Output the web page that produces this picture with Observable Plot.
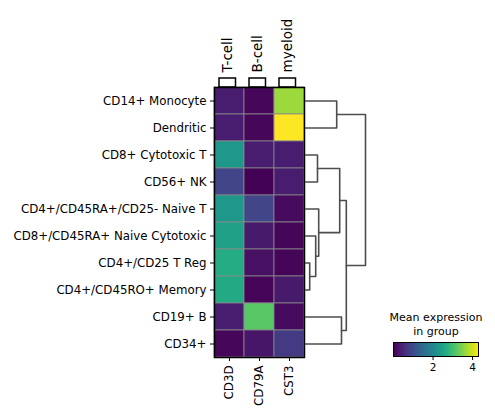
<!DOCTYPE html>
<html>
<head>
<meta charset="utf-8">
<script src="https://cdn.jsdelivr.net/npm/d3@7"></script>
<script src="https://cdn.jsdelivr.net/npm/@observablehq/plot@0.6"></script>
<style>
  html, body { margin: 0; padding: 0; background: white; }
  #chart { position: relative; width: 495px; height: 417px; background: white; }
  #chart svg { position: absolute; left: 0; top: 0; }
</style>
</head>
<body>
<div id="chart"></div>
<script>
// ---- data ----
const groups = ["CD14+ Monocyte", "Dendritic", "CD8+ Cytotoxic T", "CD56+ NK",
  "CD4+/CD45RA+/CD25- Naive T", "CD8+/CD45RA+ Naive Cytotoxic", "CD4+/CD25 T Reg",
  "CD4+/CD45RO+ Memory", "CD19+ B", "CD34+"];
const genes = ["CD3D", "CD79A", "CST3"];
const geneGroups = ["T-cell", "B-cell", "myeloid"];
const cd3d  = [0.35, 0.35, 2.28, 0.90, 2.30, 2.45, 2.65, 2.60, 0.35, 0.08];
const cd79a = [0.08, 0.08, 0.35, 0.03, 0.90, 0.30, 0.18, 0.05, 3.18, 0.25];
const cst3  = [3.65, 4.30, 0.35, 0.35, 0.12, 0.06, 0.06, 0.30, 0.12, 0.72];
// dendrogram linkage (children: 0-9 leaves, 10+ merged clusters), relative heights
const linkLeft   = [6, 5, 2, 4, 0, 12, 8, 15, 14];
const linkRight  = [7, 10, 3, 11, 1, 13, 9, 16, 17];
const linkHeight = [0.07, 0.17, 0.20, 0.22, 0.52, 0.57, 0.60, 0.68, 1.00];
const colorTicks = [2, 4];
const colorDomain = [0, 4.3];
const colorTitle = "Mean expression\nin group";

// ---- tables ----
const series = [cd3d, cd79a, cst3];
const cells = [];
groups.forEach((g, i) => genes.forEach((gene, j) => cells.push({group: g, gene, value: series[j][i]})));
const brackets = genes.map((gene, j) => ({gene, label: geneGroups[j]}));

// dendrogram segments
const pos = groups.map((_, i) => i), hgt = groups.map(() => 0);
const segs = [];
linkLeft.forEach((a, k) => {
  const b = linkRight[k], h = linkHeight[k];
  segs.push({id: k, x: hgt[a], y: pos[a]}, {id: k, x: h, y: pos[a]},
            {id: k, x: h, y: pos[b]}, {id: k, x: hgt[b], y: pos[b]});
  pos.push((pos[a] + pos[b]) / 2); hgt.push(h);
});

const W = 495, H = 417;
const font = {fontFamily: "DejaVu Sans", fontSize: "11.8px", background: "transparent", overflow: "visible", color: "black"};
const hmTop = 87, hmBottom = 357, hmLeft = 214, hmRight = 304;

const heat = Plot.plot({
  width: W, height: H,
  marginLeft: hmLeft, marginRight: W - hmRight, marginTop: hmTop, marginBottom: H - hmBottom,
  x: {domain: genes, padding: 0, label: null},
  y: {domain: groups, padding: 0, label: null},
  color: {type: "linear", scheme: "viridis", domain: colorDomain},
  style: font,
  marks: [
    Plot.cell(cells, {x: "gene", y: "group", fill: "value", stroke: "#8a8a8a", strokeWidth: 0.8, inset: 0}),
    Plot.frame({stroke: "black", strokeWidth: 1.5}),
    Plot.axisY({tickSize: 4, tickPadding: 4, label: null}),
    Plot.axisX({anchor: "bottom", tickRotate: -90, tickSize: 4, tickPadding: 4, label: null})
  ]
});

const brk = Plot.plot({
  width: W, height: H,
  marginLeft: hmLeft, marginRight: W - hmRight, marginTop: 78, marginBottom: H - hmTop,
  x: {domain: genes, padding: 0, axis: null},
  y: {domain: [0, 1], axis: null},
  style: font,
  marks: [
    Plot.barY(brackets, {x: "gene", y1: 0, y2: 1, insetLeft: 5, insetRight: 8.5, fill: "none", stroke: "black", strokeWidth: 1.5}),
    Plot.text(brackets, {x: "gene", y: 1, text: "label", rotate: -90, textAnchor: "start", dy: -6, dx: -1.75, fontSize: 13.5})
  ]
});

const dendro = Plot.plot({
  width: W, height: H,
  marginLeft: 305, marginRight: W - 365, marginTop: hmTop, marginBottom: H - hmBottom,
  x: {domain: [0, 1], axis: null},
  y: {domain: [-0.5, groups.length - 0.5], reverse: true, axis: null},
  style: font,
  marks: [
    Plot.line(segs, {x: "x", y: "y", z: "id", stroke: "#4d4d4d", strokeWidth: 1.6})
  ]
});

const cbar = Plot.plot({
  width: W, height: H,
  marginLeft: 393, marginRight: W - 478, marginTop: 342, marginBottom: H - 356,
  x: {domain: colorDomain, label: null},
  y: {domain: [0, 1], axis: null},
  color: {type: "linear", scheme: "viridis", domain: colorDomain},
  style: {...font, fontSize: "10.5px"},
  marks: [
    Plot.raster({fill: (x, y) => x, x1: colorDomain[0], x2: colorDomain[1], y1: 0, y2: 1, width: 256, height: 1, imageRendering: "auto"}),
    Plot.frame({stroke: "black", strokeWidth: 1}),
    Plot.axisX({ticks: colorTicks, tickFormat: "d", tickSize: 4, tickPadding: 3, label: null}),
    Plot.text([colorTitle], {frameAnchor: "top", dy: -8, lineAnchor: "bottom", lineHeight: 1.25, fontSize: 11})
  ]
});

const chart = document.getElementById("chart");
[heat, dendro, brk, cbar].forEach(s => chart.appendChild(s));
</script>
</body>
</html>
